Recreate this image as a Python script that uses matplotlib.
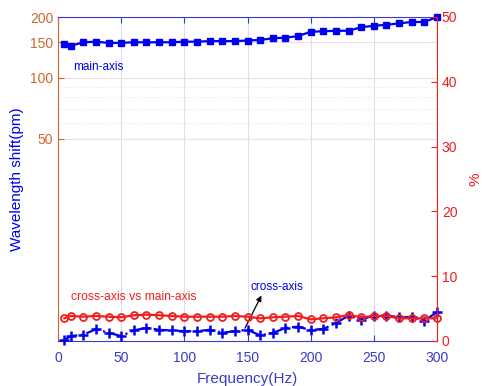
import numpy as np
import matplotlib
matplotlib.use("Agg")
import matplotlib.pyplot as plt

plt.rcParams['font.family'] = ['Liberation Sans', 'DejaVu Sans']

# Frequency points (Hz)
freq = [5, 10, 20, 30, 40, 50, 60, 70, 80, 90, 100, 110, 120, 130, 140, 150,
        160, 170, 180, 190, 200, 210, 220, 230, 240, 250, 260, 270, 280, 290, 300]

# Wavelength shift along the main axis (pm)
main_axis = [147, 144, 150, 151, 149, 149, 150, 150, 150, 150, 151, 151, 152, 152,
             152, 153, 154, 157, 158, 161, 169, 170, 171, 171, 178, 181, 183, 186,
             189, 189, 200]

# Wavelength shift along the cross axis (pm)
cross_axis = [5.05, 5.29, 5.37, 5.72, 5.49, 5.29, 5.64, 5.81, 5.68, 5.64, 5.59,
              5.59, 5.68, 5.49, 5.59, 5.68, 5.33, 5.48, 5.80, 5.89, 5.66, 5.74,
              6.13, 6.68, 6.38, 6.68, 6.68, 6.56, 6.56, 6.31, 6.94]

# Cross-axis response relative to main axis (%)
ratio = [3.50, 3.86, 3.75, 3.86, 3.75, 3.66, 3.97, 4.06, 3.97, 3.86, 3.75, 3.75,
         3.75, 3.75, 3.86, 3.75, 3.50, 3.66, 3.75, 3.86, 3.35, 3.50, 3.66, 4.01,
         3.66, 3.86, 3.86, 3.50, 3.50, 3.50, 3.50]

left_ticks = [50, 100, 150, 200]
right_ticks = [0, 10, 20, 30, 40, 50]
x_ticks = [0, 50, 100, 150, 200, 250, 300]

blue = '#0000EE'
red = '#F01E1E'
brown = '#CC6633'
axblue = '#3A3AC8'

fig = plt.figure(figsize=(4.82, 3.86), dpi=100)
ax1 = fig.add_axes([58 / 482, 1 - 341 / 386, (437 - 58) / 482, (341 - 17) / 386])
ax2 = ax1.twinx()

# left axis: log scale wavelength shift
ax1.set_yscale('log')
ax1.set_ylim(5, 200)
ax1.set_xlim(0, 300)
ax1.set_yticks(left_ticks)
ax1.set_yticklabels([str(t) for t in left_ticks])
ax1.set_yticks([60, 70, 80, 90], minor=True)
ax1.set_xticks(x_ticks)
ax1.tick_params(axis='y', which='major', direction='in', length=4, colors=brown,
                labelsize=10)
ax1.tick_params(axis='y', which='minor', length=0)
ax1.tick_params(axis='x', direction='in', length=4, colors=axblue, labelsize=10,
                top=True, pad=7)
ax1.grid(axis='x', color='#DCDCF2', linewidth=0.8)
ax1.grid(axis='y', which='major', color='#F4DCDC', linewidth=0.8)
ax1.grid(axis='y', which='minor', color='#E6E6E6', linewidth=0.8, linestyle=':')
ax1.set_axisbelow(True)

for side in ['top', 'bottom']:
    ax1.spines[side].set_color(axblue)
ax1.spines['left'].set_color(brown)
ax1.spines['right'].set_visible(False)

ax1.plot(freq, main_axis, '-s', color=blue, markersize=4.5, linewidth=1.6,
         clip_on=False, zorder=4)
ax1.plot(freq, cross_axis, '-.+', color=blue, markersize=7, markeredgewidth=1.8,
         linewidth=1.6, clip_on=False, zorder=4)

ax1.set_xlabel('Frequency(Hz)', color=axblue, fontsize=11, labelpad=5)
ax1.set_ylabel('Wavelength shift(pm)', color=blue, fontsize=11, labelpad=4)

# right axis: ratio in percent
ax2.set_ylim(0, 50)
ax2.set_yticks(right_ticks)
ax2.tick_params(axis='y', direction='in', length=4, colors=red, labelsize=10)
ax2.spines['right'].set_color(red)
for side in ['top', 'bottom', 'left']:
    ax2.spines[side].set_visible(False)
ax2.plot(freq, ratio, '-o', color=red, markerfacecolor='none', markersize=5,
         markeredgewidth=1.3, linewidth=1.6, clip_on=False, zorder=5)
ax2.set_ylabel('%', color=red, fontsize=11, labelpad=8)

# curve labels
ax1.text(12, 110, 'main-axis', color=blue, fontsize=8.5)
ax2.text(10, 6.3, 'cross-axis vs main-axis', color=red, fontsize=8.7)
ax2.annotate('', xy=(162, 7.4), xytext=(147, 1.6),
             arrowprops=dict(arrowstyle='-|>', color='black', lw=0.9,
                             mutation_scale=8))
ax2.text(152, 7.9, 'cross-axis', color=blue, fontsize=8.5)

fig.savefig('out.png', dpi=100)
